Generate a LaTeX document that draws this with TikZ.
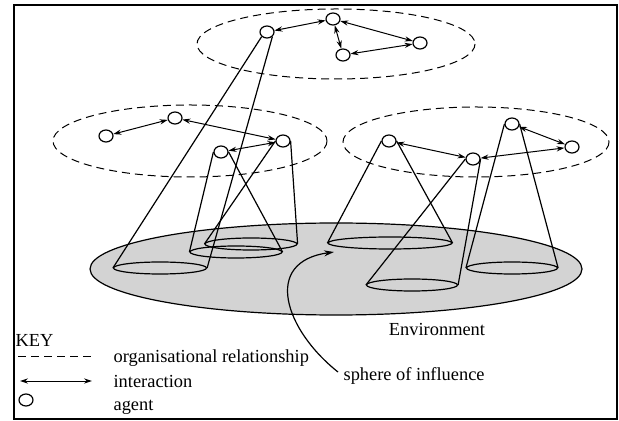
\documentclass[tikz,border=0pt]{standalone}
\usepackage{fontspec}
\setmainfont{Liberation Serif}
\usepackage{xcolor}
\usepackage{tikz}
\usetikzlibrary{positioning,shapes.geometric,arrows.meta}
\definecolor{envgray}{RGB}{211,211,211}
\begin{document}
\begin{tikzpicture}[x=0.5pt, y=-0.5pt, line width=0.6pt, font=\fontsize{9.2}{11}\selectfont,
  agent/.style={draw, ellipse, fill=white, minimum width=7pt, minimum height=6pt, inner sep=0pt},
  base/.style={draw, ellipse, minimum height=6pt, inner sep=0pt},
  org/.style={dashed, dash pattern=on 4pt off 2.5pt, line width=0.5pt},
  inter/.style={{Stealth[length=4pt,width=2.6pt]}-{Stealth[length=4pt,width=2.6pt]}, line width=0.5pt},
  label/.style={inner sep=0pt, anchor=west}]
\useasboundingbox (0,0) rectangle (619,421);
\draw[line width=1.2pt] (14,5) rectangle (617,419);
% environment
\draw[fill=envgray] (336,269) ellipse [x radius=246, y radius=46];
\node (env) at (437,329) {Environment};
% bases of the spheres of influence
\node[base, minimum width=46.5pt] (tb) at (160,268) {};
\node[base, minimum width=46pt] (lb3) at (236,252) {};
\node[base, minimum width=46pt] (lb4) at (251,244) {};
\node[base, minimum width=62pt] (rb1) at (390,243) {};
\node[base, minimum width=45.5pt] (rb2) at (412,285) {};
\node[base, minimum width=45.5pt] (rb3) at (512,268) {};
% organisations
\draw[org] (336,44) ellipse [x radius=139, y radius=35];
\draw[org] (190,141) ellipse [x radius=137, y radius=36];
\draw[org] (476,142) ellipse [x radius=133, y radius=35];
% agents
\node[agent] (t1) at (267,32) {}; \node[agent] (t2) at (333,19) {}; \node[agent] (t3) at (343,55) {}; \node[agent] (t4) at (420,43) {};
\node[agent] (l1) at (106,136) {}; \node[agent] (l2) at (175,118) {}; \node[agent] (l3) at (221,152) {}; \node[agent] (l4) at (283,141) {};
\node[agent] (r1) at (389,141) {}; \node[agent] (r2) at (473,159) {}; \node[agent] (r3) at (512,124) {}; \node[agent] (r4) at (572,147) {};
% cones
\draw (t1.south west)--(tb.west); \draw (t1.south east)--(tb.east);
\draw (l3.west)--(lb3.west); \draw (l3.east)--(lb3.east);
\draw (l4.west)--(lb4.west); \draw (l4.east)--(lb4.east);
\draw (r1.west)--(rb1.west); \draw (r1.east)--(rb1.east);
\draw (r2.west)--(rb2.west); \draw (r2.east)--(rb2.east);
\draw (r3.west)--(rb3.west); \draw (r3.east)--(rb3.east);
% interactions
\draw[inter] (t1)--(t2); \draw[inter] (t2)--(t3); \draw[inter] (t2)--(t4); \draw[inter] (t3)--(t4);
\draw[inter] (l1)--(l2); \draw[inter] (l2)--(l4); \draw[inter] (l3)--(l4);
\draw[inter] (r1)--(r2); \draw[inter] (r2)--(r4); \draw[inter] (r3)--(r4);
% sphere of influence
\node[label] (sphere) at (343,376) {sphere of influence};
\coordinate (tail) at (338,372);
\coordinate (tip) at (334,252);
\draw[-{Stealth[length=5pt,width=3pt]}] (tail) .. controls (285,330) and (262,262) .. (tip);
% key
\node[label] (key) at (15,340) {KEY};
\coordinate (k1a) at (18,356); \coordinate (k1b) at (92,356);
\coordinate (k2a) at (20,381); \coordinate (k2b) at (92,381);
\draw[org] (k1a)--(k1b);
\draw[inter] (k2a)--(k2b);
\node[agent] (kagent) at (26,400) {};
\node[label] (korg) at (113,358) {organisational relationship};
\node[label] (kint) at (113,381) {interaction};
\node[label] (kag) at (113,407) {agent};
\end{tikzpicture}
\end{document}
